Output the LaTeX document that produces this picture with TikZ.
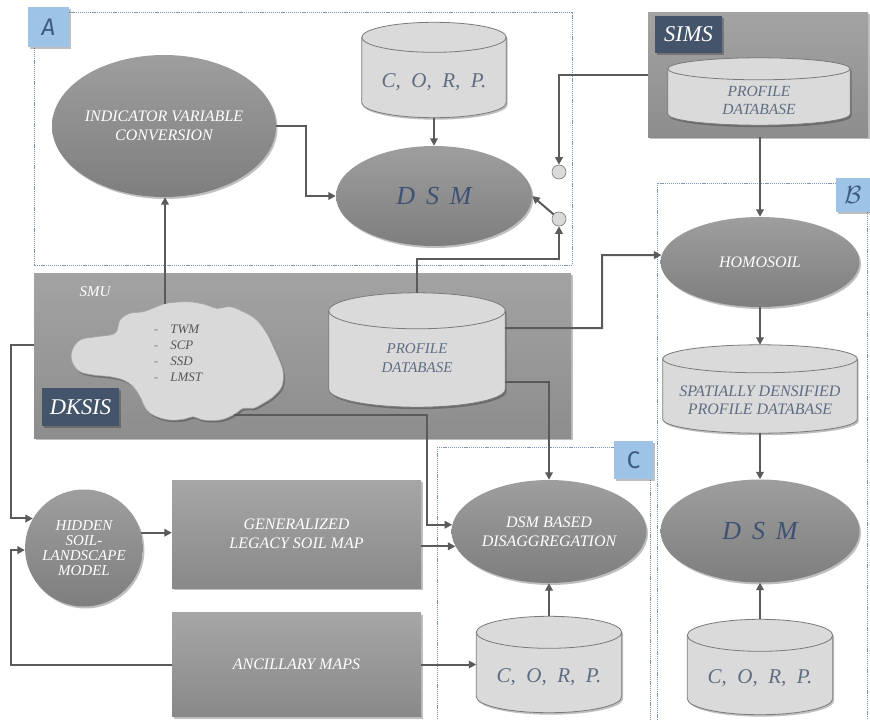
\documentclass[tikz,border=0pt]{standalone}
\usepackage{fontspec}
\setmainfont{Liberation Serif}
\setsansfont{Fira Sans}
\usetikzlibrary{shapes.geometric,arrows.meta,shadows,calc}

\definecolor{arrowgray}{HTML}{5A5A5A}
\definecolor{framecol}{HTML}{8095B3}
\definecolor{tagblue}{HTML}{9DC3E6}
\definecolor{tagtext}{HTML}{3E5A80}
\definecolor{darktag}{HTML}{44546A}
\definecolor{dsmtext}{HTML}{3E5273}
\definecolor{dbtext}{HTML}{5F6D83}
\definecolor{dbfill}{HTML}{DADADA}
\definecolor{dbline}{HTML}{7A7A7A}
\definecolor{ovaltop}{HTML}{9E9E9E}
\definecolor{ovalbot}{HTML}{7E7E7E}
\definecolor{boxtop}{HTML}{A6A6A6}
\definecolor{boxbot}{HTML}{898989}
\definecolor{paneltop}{HTML}{A3A3A3}
\definecolor{panelbot}{HTML}{8D8D8D}
\definecolor{cloudfill}{HTML}{D9D9D9}
\definecolor{listtext}{HTML}{555555}

\tikzset{
  soft shadow/.style={drop shadow={shadow xshift=1.5pt,shadow yshift=-2pt,opacity=.25,fill=black}},
  frame/.style={draw=framecol, line width=0.8pt, dash pattern=on 1.2pt off 0.9pt},
  ovalnode/.style={ellipse, inner sep=0pt, top color=ovaltop, bottom color=ovalbot,
    soft shadow, text=white, align=center, font=\itshape\fontsize{16}{19}\selectfont},
  dsmlabel/.style={text=dsmtext, font=\itshape\fontsize{26}{30}\selectfont},
  graybox/.style={rectangle, inner sep=0pt, top color=boxtop, bottom color=boxbot,
    soft shadow, text=white, align=center, font=\itshape\fontsize{16}{19}\selectfont},
  panel/.style={rectangle, inner sep=0pt, top color=paneltop, bottom color=panelbot, soft shadow},
  dbslot/.style={rectangle, inner sep=0pt},
  dbbody/.style={fill=dbfill, draw=dbline, line width=0.8pt, soft shadow},
  dbrim/.style={draw=dbline, line width=0.8pt},
  dbcaption/.style={text=dbtext, align=center, inner sep=0pt,
    font=\itshape\fontsize{15}{19}\selectfont},
  corptext/.style={text=dbtext, inner sep=0pt, font=\itshape\fontsize{21}{24}\selectfont},
  lettertag/.style={rectangle, inner sep=0pt, fill=tagblue, soft shadow, text=tagtext,
    font=\sffamily\itshape\fontsize{24}{24}\selectfont},
  darklabel/.style={rectangle, inner sep=0pt, fill=darktag, soft shadow, text=white,
    font=\itshape\fontsize{22.5}{26}\selectfont},
  joint/.style={circle, inner sep=0pt, minimum size=14pt, fill=dbfill, draw=dbline, line width=0.6pt},
  arr/.style={draw=arrowgray, line width=2pt, -{Triangle[length=7.5pt,width=7.5pt]}},
}

% database cylinder filling the box of node #1, end ellipses of y radius #2 (pt)
\newcommand\dbdraw[2]{%
  \path[dbbody] let \p1=(#1.north west), \p2=(#1.south east), \n1={(\x2-\x1)/2} in
    ({\x1},{\y1-#2pt}) -- ({\x1},{\y2+#2pt})
    arc[start angle=180, end angle=360, x radius=\n1, y radius=#2pt]
    -- ({\x2},{\y1-#2pt})
    arc[start angle=0, end angle=180, x radius=\n1, y radius=#2pt] -- cycle;
  \path[dbrim] let \p1=(#1.north west), \p2=(#1.south east), \n1={(\x2-\x1)/2} in
    ({\x1},{\y1-#2pt}) arc[start angle=180, end angle=360, x radius=\n1, y radius=#2pt];
}

\begin{document}
\begin{tikzpicture}[x=1pt, y=-1pt]
\useasboundingbox (0,0) rectangle (870,720);
\fill[white] (0,0) rectangle (870,720);

% dotted group frames
\draw[frame] (34,12) rectangle (572,265);
\draw[frame] (657,183) rectangle (867,726);
\draw[frame] (437,447) rectangle (650,726);

% gray panels
\node[panel, minimum width=220pt, minimum height=125pt] (simspanel) at (758,74.5) {};
\node[panel, minimum width=537pt, minimum height=165pt] (smupanel) at (302.5,355.5) {};

% group letters
\node[lettertag, minimum width=41pt, minimum height=40pt] (tagA) at (48.5,27) {A};
\node[lettertag, minimum width=34pt, minimum height=34pt, font=\fontsize{24}{24}\selectfont] (tagB) at (853,195) {$\mathcal{B}$};
\node[lettertag, minimum width=39pt, minimum height=38pt, font=\sffamily\fontsize{24}{24}\selectfont] (tagC) at (633.5,460) {C};

% dark labels
\node[darklabel, minimum width=67pt, minimum height=37pt] (simstag) at (688.5,34.5) {SIMS};
\node[darklabel, minimum width=77pt, minimum height=38pt] (dksis) at (80.5,407) {DKSIS};
\node[text=white, font=\itshape\fontsize{15}{18}\selectfont] (smutitle) at (95,292) {SMU};

% group A
\node[dbslot, minimum width=144pt, minimum height=95pt] (corpA) at (434,70) {};
\dbdraw{corpA}{15}
\node[corptext] (corpAtxt) at (434,82) {C,\ \ O,\ \ R,\ \ P.};
\node[ovalnode, minimum width=224pt, minimum height=142pt] (ivc) at (164,126) {INDICATOR VARIABLE\\CONVERSION};
\node[ovalnode, minimum width=196pt, minimum height=100pt, dsmlabel] (dsmA) at (434,196) {D\,\ S\,\ M};
\node[joint] (ctop) at (559,172) {};
\node[joint] (cbot) at (559,219) {};

% SIMS profile database
\node[dbslot, minimum width=182pt, minimum height=67pt] (simsdb) at (759,91.5) {};
\dbdraw{simsdb}{11}
\node[dbcaption, font=\itshape\fontsize{15.5}{18}\selectfont] (simsdbtxt) at (759,100) {PROFILE\\DATABASE};

% group B
\node[ovalnode, minimum width=199pt, minimum height=90pt] (homosoil) at (760,262) {HOMOSOIL};
\node[dbslot, minimum width=194pt, minimum height=88pt] (sdpd) at (760,389) {};
\dbdraw{sdpd}{14}
\node[dbcaption, font=\itshape\fontsize{16}{18}\selectfont] (sdpdtxt) at (760,400) {SPATIALLY DENSIFIED\\PROFILE DATABASE};
\node[ovalnode, minimum width=199pt, minimum height=103pt, dsmlabel] (dsmB) at (760,531) {D\,\ S\,\ M};
\node[dbslot, minimum width=145pt, minimum height=95pt] (corpB) at (760,667) {};
\dbdraw{corpB}{16}
\node[corptext] (corpBtxt) at (760,678) {C,\ \ O,\ \ R,\ \ P.};

% SMU contents: cloud of soil map unit attributes
\draw[fill=cloudfill, draw=gray!70, line width=0.6pt, soft shadow]
  plot[smooth cycle, tension=0.6] coordinates {
  (71.7,351.7) (80,340) (96.7,336.7) (115,333.3) (120,320) (130,313.3) (143.3,311.7)
  (156.7,306.7) (166.7,303.3) (186.7,301.7) (203.3,304) (216.7,308.3) (230,306.7)
  (243.3,311.7) (256.7,320) (266.7,333.3) (273.3,346.7) (280,361.7) (283.3,373.3)
  (281.7,386.7) (273.3,396.7) (263.3,403.3) (253.3,408.3) (243.3,408.3) (233.3,415)
  (220,420) (203.3,420) (193.3,416.7) (183.3,419.3) (170,420) (156.7,416.7)
  (146.7,410) (140,396.7) (133.3,386.7) (123.3,380) (110,376.7) (93.3,375)
  (80,371.7) (72.7,363.3)};
\coordinate (cloudtop) at (165,303.5);
\coordinate (cloudout) at (234,414.5);
\node[text=listtext, font=\itshape\fontsize{13}{16}\selectfont, inner sep=0pt] (unitlist) at (178,354)
  {\begin{tabular}{@{}l@{\hspace{12pt}}l@{}}{\color{gray}-} & TWM\\ {\color{gray}-} & SCP\\ {\color{gray}-} & SSD\\ {\color{gray}-} & LMST\end{tabular}};
\node[dbslot, minimum width=176pt, minimum height=114pt] (smudb) at (417,350) {};
\dbdraw{smudb}{18}
\node[dbcaption] (smudbtxt) at (417,358) {PROFILE\\DATABASE};

% lower left chain
\node[ovalnode, minimum width=98pt, minimum height=117pt, font=\itshape\fontsize{15}{15}\selectfont] (hslm) at (84,548) {HIDDEN\\SOIL-\\LANDSCAPE\\MODEL};
\node[graybox, minimum width=249pt, minimum height=108pt] (glsm) at (296.5,534) {GENERALIZED\\LEGACY SOIL MAP};
\node[graybox, minimum width=249pt, minimum height=104pt] (anc) at (296.5,664.5) {ANCILLARY MAPS};

% group C
\node[ovalnode, minimum width=195pt, minimum height=103pt] (dsmbd) at (549,531.5) {DSM BASED\\DISAGGREGATION};
\node[dbslot, minimum width=145pt, minimum height=96pt] (corpC) at (549,664.5) {};
\dbdraw{corpC}{16}
\node[corptext] (corpCtxt) at (549,677) {C,\ \ O,\ \ R,\ \ P.};

% connectors
\draw[arr] (corpA) -- (dsmA);
\draw[arr] (ivc.east) -- ++(30,0) |- (dsmA.west);
\draw[arr] (simspanel.west) -| (ctop);
\coordinate (jc) at (559,259);
\draw[arr] (smudb.north) |- (jc) -- (cbot);
\draw[arr] (cbot) -- (dsmA.east);
\draw[arr] (cloudtop) -- (cloudtop |- ivc.south);
\draw[arr] (simspanel.south -| homosoil) -- (homosoil);
\coordinate (jh) at (602,255);
\draw[arr] ([yshift=22pt]smudb.east) -| (jh) -- (homosoil.176);
\draw[arr] (homosoil) -- (sdpd);
\draw[arr] (sdpd) -- (dsmB);
\draw[arr] (corpB) -- (dsmB);
\draw[arr] ([yshift=-32pt]smudb.east) -| (dsmbd.north);
\coordinate (jd) at (427,414.5);
\draw[arr] (cloudout) -- (jd) |- (dsmbd.176);
\coordinate (jl) at (11,345);
\draw[arr] (jl -| smupanel.west) -- (jl) |- (hslm.150.6);
\draw[arr] (anc.west) -- (anc.west -| jl) |- (hslm.182);
\draw[arr] (hslm.15) -- (hslm.15 -| glsm.west);
\draw[arr] (dsmbd.189.5 -| glsm.east) -- (dsmbd.189.5);
\draw[arr] (anc.east) -- (anc.east -| corpC.west);
\draw[arr] (corpC) -- (dsmbd);
\end{tikzpicture}
\end{document}
